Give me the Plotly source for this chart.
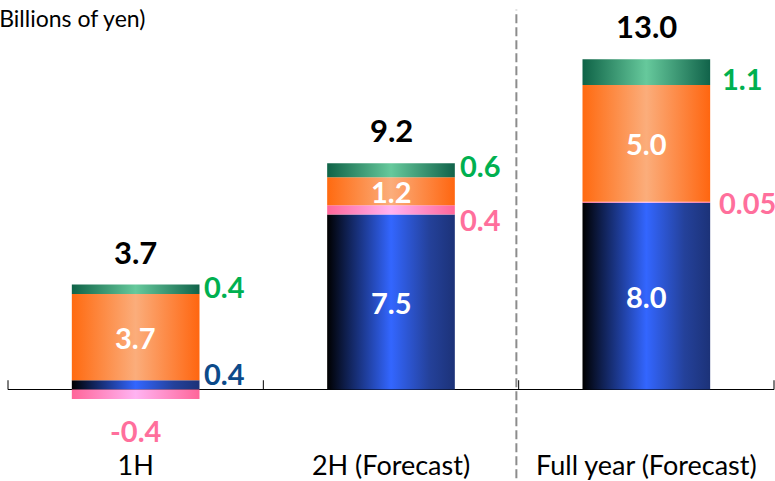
import plotly.graph_objects as go

# Operating income breakdown (billions of yen)
categories = ["1H", "2H (Forecast)", "Full year (Forecast)"]
blue_vals = [0.4, 7.5, 8.0]
pink_vals = [-0.4, 0.4, 0.05]
orange_vals = [3.7, 1.2, 5.0]
green_vals = [0.4, 0.6, 1.1]
totals = [3.7, 9.2, 13.0]
blue_text = ["0.4", "7.5", "8.0"]
pink_text = ["-0.4", "0.4", "0.05"]
orange_text = ["3.7", "1.2", "5.0"]
green_text = ["0.4", "0.6", "1.1"]
total_text = ["3.7", "9.2", "13.0"]

BAR_W = 0.5
FONT = "Lato"
LBL = 29

grad = {
    "blue": [[0, "#000000"], [0.15, "#0f1f4f"], [0.5, "#3366ff"], [0.8, "#24419a"], [1, "#1c3278"]],
    "pink": [[0, "#ff6699"], [0.5, "#ffb3f2"], [1, "#ff6699"]],
    "orange": [[0, "#ff6a10"], [0.5, "#fbad7b"], [1, "#ff6610"]],
    "green": [[0, "#0f6347"], [0.5, "#66c99c"], [1, "#11634a"]],
}

fig = go.Figure()


def add_rect(i, y0, y1, scale):
    xl, xr = i - BAR_W / 2, i + BAR_W / 2
    fig.add_trace(go.Scatter(
        x=[xl, xr, xr, xl, xl], y=[y0, y0, y1, y1, y0],
        mode="lines", line=dict(width=0), fill="toself",
        fillgradient=dict(type="horizontal", colorscale=scale),
        hoverinfo="skip", showlegend=False,
    ))


segments = []  # (bottom, top) per series for each category
for i in range(len(categories)):
    pos = 0.0
    seg = {}
    for name, vals in (("blue", blue_vals), ("pink", pink_vals),
                       ("orange", orange_vals), ("green", green_vals)):
        v = vals[i]
        if v >= 0:
            seg[name] = (pos, pos + v)
            pos += v
        else:
            seg[name] = (v, 0.0)
    seg["top"] = pos
    segments.append(seg)
    for name in ("blue", "pink", "orange", "green"):
        b, t = seg[name]
        add_rect(i, b, t, grad[name])

GREEN = "#00b050"
PINK = "#ff6f9c"
NAVY = "#0c4a8a"

ann = []
side_shift = {  # (xshift, yshift) in px for labels beside the bars
    ("green", 0): (2, 3), ("green", 1): (3, 5), ("green", 2): (10, -6),
    ("pink", 1): (3, -10), ("pink", 2): (7, 0),
    ("blue", 0): (2, 11),
}
for i, seg in enumerate(segments):
    right = i + BAR_W / 2
    # totals above the stack
    ann.append(dict(x=i, y=seg["top"], text=total_text[i], showarrow=False,
                    yanchor="middle", yshift=33,
                    font=dict(family=FONT, size=31, color="black", weight="bold")))
    # orange labels inside
    b, t = seg["orange"]
    ann.append(dict(x=i, y=(b + t) / 2, text=orange_text[i], showarrow=False,
                    font=dict(family=FONT, size=LBL, color="white", weight="bold")))
    # green labels to the right
    b, t = seg["green"]
    dx, dy = side_shift[("green", i)]
    ann.append(dict(x=right, y=(b + t) / 2, text=green_text[i], showarrow=False,
                    xanchor="left", xshift=dx, yshift=dy,
                    font=dict(family=FONT, size=LBL, color=GREEN, weight="bold")))
    # blue labels
    b, t = seg["blue"]
    if i == 0:
        dx, dy = side_shift[("blue", 0)]
        ann.append(dict(x=right, y=(b + t) / 2, text=blue_text[i], showarrow=False,
                        xanchor="left", xshift=dx, yshift=dy,
                        font=dict(family=FONT, size=LBL, color=NAVY, weight="bold")))
    else:
        ann.append(dict(x=i, y=(b + t) / 2, text=blue_text[i], showarrow=False,
                        font=dict(family=FONT, size=LBL, color="white", weight="bold")))
    # pink labels
    b, t = seg["pink"]
    if pink_vals[i] < 0:
        ann.append(dict(x=i, y=b, text=pink_text[i], showarrow=False,
                        yanchor="top", yshift=-12,
                        font=dict(family=FONT, size=LBL, color=PINK, weight="bold")))
    else:
        dx, dy = side_shift[("pink", i)]
        ann.append(dict(x=right, y=(b + t) / 2, text=pink_text[i], showarrow=False,
                        xanchor="left", xshift=dx, yshift=dy,
                        font=dict(family=FONT, size=LBL, color=PINK, weight="bold")))

ann.append(dict(xref="paper", yref="paper", x=0.1815, y=1.0, xanchor="right",
                yanchor="top", yshift=-2, text="(Billions of yen)", showarrow=False,
                font=dict(family=FONT, size=23, color="black")))

n = len(categories)
shapes = []
# small upward ticks at the category boundaries
for k in range(n + 1):
    shapes.append(dict(type="line", xref="paper", yref="y", x0=k / n, x1=k / n,
                       y0=0, y1=0.4, line=dict(color="black", width=1)))
# dashed separator before the full-year column
shapes.append(dict(type="line", xref="paper", yref="paper", x0=(n - 1) / n - 0.003,
                   x1=(n - 1) / n - 0.003, y0=-0.07, y1=0.978,
                   line=dict(color="#8c8c8c", width=2, dash="9px,4px")))

fig.update_layout(
    width=775, height=481,
    margin=dict(l=8, r=1, t=0, b=30),
    paper_bgcolor="white", plot_bgcolor="white",
    annotations=ann, shapes=shapes,
    xaxis=dict(range=[-0.5, n - 0.5], tickvals=list(range(n)), ticktext=categories,
               showgrid=False, zeroline=False, showline=False, ticks="",
               tickfont=dict(family=FONT, size=27, color="black")),
    yaxis=dict(range=[-2.46, 16.69], showgrid=False, showticklabels=False,
               zeroline=True, zerolinecolor="black", zerolinewidth=1),
    showlegend=False,
)

fig.write_html("out.html")
